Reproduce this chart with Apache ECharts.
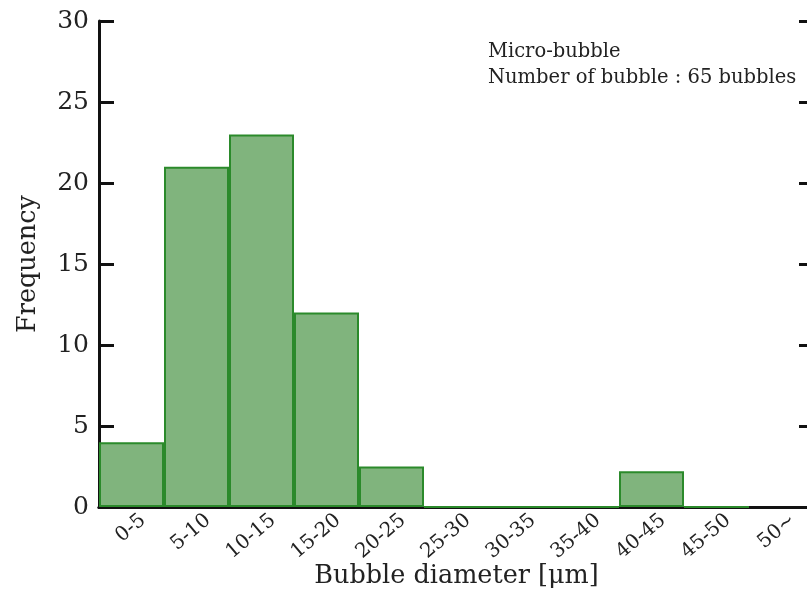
<!DOCTYPE html>
<html>
<head>
<meta charset="utf-8">
<script src="https://cdn.jsdelivr.net/npm/echarts@6/dist/echarts.min.js"></script>
<style>
  html, body { margin: 0; padding: 0; background: #fff; overflow: hidden; }
  #chart { width: 815px; height: 595px; }
</style>
</head>
<body>
<div id="chart"></div>
<script>
// Bubble size classes (μm) and how many bubbles fall in each
const diameterBins = ['0-5', '5-10', '10-15', '15-20', '20-25', '25-30', '30-35', '35-40', '40-45', '45-50', '50~'];
const frequency = [4, 21, 23, 12, 2.5, 0, 0, 0, 2.2, 0, null];
const frequencyTicks = { min: 0, max: 30, interval: 5 };

const FONT = 'DejaVu Serif';
const INK = '#222';

// ticks only on every second class boundary
const oddBoundary = (idx) => idx % 2 === 1;

const axisLineStyle = { lineStyle: { color: '#111', width: 3 } };
const tickStyle = { inside: true, length: 15, lineStyle: { color: '#111', width: 3 } };

const chart = echarts.init(document.getElementById('chart'), null, { renderer: 'canvas' });
chart.setOption({
  animation: false,
  backgroundColor: '#fff',
  grid: {
    left: 99, top: 21, width: 715, height: 486,
    containLabel: false, outerBoundsMode: 'none'
  },
  xAxis: [
    {
      type: 'category',
      data: diameterBins,
      position: 'bottom',
      boundaryGap: true,
      axisLine: axisLineStyle,
      axisTick: Object.assign({ interval: oddBoundary }, tickStyle),
      axisLabel: {
        interval: 0, rotate: 40, margin: -3, verticalAlign: 'top',
        padding: [8, 0, 0, 0],
        fontFamily: FONT, fontSize: 20, color: INK
      },
      name: 'Bubble diameter [μm]',
      nameLocation: 'middle',
      nameGap: 56,
      nameMoveOverlap: false,
      nameTextStyle: { fontFamily: FONT, fontSize: 25.5, color: INK }
    },
    {
      type: 'category',
      data: diameterBins,
      position: 'top',
      boundaryGap: true,
      axisLine: axisLineStyle,
      axisTick: Object.assign({ interval: oddBoundary }, tickStyle),
      axisLabel: { show: false }
    }
  ],
  yAxis: [
    {
      type: 'value',
      position: 'left',
      min: frequencyTicks.min, max: frequencyTicks.max, interval: frequencyTicks.interval,
      splitLine: { show: false },
      axisLine: Object.assign({ show: true }, axisLineStyle),
      axisTick: Object.assign({ show: true }, tickStyle),
      axisLabel: { margin: 10, fontFamily: FONT, fontSize: 25, color: INK },
      name: 'Frequency',
      nameLocation: 'middle',
      nameGap: 58,
      nameMoveOverlap: false,
      nameTextStyle: { fontFamily: FONT, fontSize: 25.5, color: INK }
    },
    {
      type: 'value',
      position: 'right',
      min: frequencyTicks.min, max: frequencyTicks.max, interval: frequencyTicks.interval,
      splitLine: { show: false },
      axisLine: Object.assign({ show: true }, axisLineStyle),
      axisTick: Object.assign({ show: true }, tickStyle),
      axisLabel: { show: false }
    }
  ],
  series: [
    {
      type: 'bar',
      data: frequency,
      xAxisIndex: 0,
      yAxisIndex: 0,
      barCategoryGap: '0%',
      itemStyle: { color: '#80b47d', borderColor: '#2b8a2b', borderWidth: 2 }
    }
  ],
  graphic: [
    {
      type: 'text', left: 488, top: 42,
      style: { text: 'Micro-bubble', font: '19.5px "DejaVu Serif"', fill: INK }
    },
    {
      type: 'text', left: 488, top: 68,
      style: { text: 'Number of bubble : 65 bubbles', font: '19.5px "DejaVu Serif"', fill: INK }
    }
  ]
});
</script>
</body>
</html>
